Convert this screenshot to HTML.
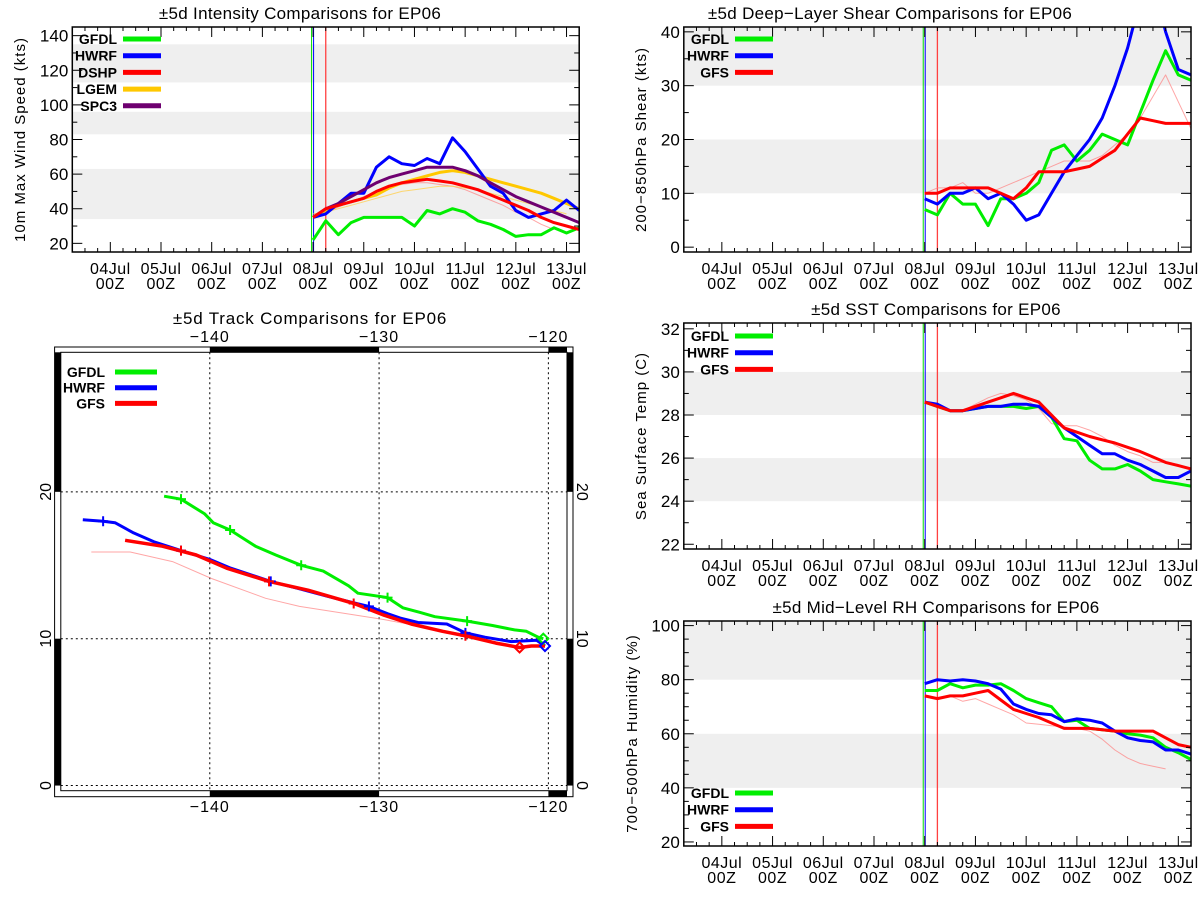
<!DOCTYPE html>
<html><head><meta charset="utf-8"><style>
html,body{margin:0;padding:0;background:#fff;}
svg{display:block;font-family:"Liberation Sans",sans-serif;}
</style></head><body>
<svg id="chart" width="1200" height="900" viewBox="0 0 1200 900" xmlns="http://www.w3.org/2000/svg"></svg>
<script>
// ---------- data ----------
const dayLabels = ["04Jul","05Jul","06Jul","07Jul","08Jul","09Jul","10Jul","11Jul","12Jul","13Jul"];
const dayValues = [4,5,6,7,8,9,10,11,12,13];
const t0 = 8.0; // first forecast time (day), 6-hourly steps
// Intensity (kts)
const intGFDL = [22,33,25,32,35,35,35,35,30,39,37,40,38,33,31,28,24,25,25,29,26,29];
const intHWRF = [35,37,43,49,49,64,70,66,65,69,66,81,73,63,53,49,39,35,37,39,45,39];
const intDSHP = [35,40,42,44,46,50,53,55,56,57,56,55,53,51,48,45,42,39,35,32,30,28];
const intLGEM = [35,39,42,44,46,48,52,55,57,59,61,62,61,59,57,55,53,51,49,46,43,40];
const intSPC3 = [35,40,43,47,51,55,58,60,62,64,64,64,62,59,55,51,47,44,41,38,35,32];
const intDSHPold = [36,38,41,44,47,50,53,54,55,55,54,53,51,48,45,42,38,35,31,28];
const intLGEMold = [37,38,40,42,44,46,48,50,51,52,53,53,52,51,49,47,45,43,41,39,37];
// Shear (kts)
const shrGFDL = [7,6,10,8,8,4,9,9,10,12,18,19,16,18,21,20,19,25,31,36.5,32,31];
const shrHWRF = [9,8,10,10,11,9,10,8,5,6,10,14,17,20,24,30,37,46,50,40,33,32];
const shrGFS  = [10,10,11,11,11,11,10,9,11,14,14,14,14.5,15,16.5,18,21,24,23.5,23,23,23];
const shrGFSold = [10,11,11,12,10,10,11,12,13,14,15,16,16,16,17,19,21,24,28,32,27,22];
// SST (C)
const sstGFDL = [28.6,28.4,28.2,28.2,28.3,28.4,28.4,28.4,28.3,28.4,27.9,26.9,26.8,25.9,25.5,25.5,25.7,25.4,25.0,24.9,24.8,24.7];
const sstHWRF = [28.6,28.5,28.2,28.2,28.3,28.4,28.4,28.5,28.5,28.4,27.9,27.4,27.0,26.6,26.2,26.2,25.9,25.7,25.4,25.1,25.1,25.4];
const sstGFS  = [28.6,28.4,28.2,28.2,28.4,28.6,28.8,29.0,28.8,28.6,28.0,27.4,27.2,27.0,26.85,26.7,26.5,26.3,26.05,25.8,25.65,25.5];
const sstGFSold = [28.6,28.4,28.2,28.2,28.5,28.8,29.0,28.9,28.7,28.3,27.6,27.5,27.5,27.3,27.0,26.6,26.3,26.1,25.8,25.8,25.7];
// RH (%)
const rhGFDL = [76,76,78.5,77,78,78,78.5,76,73,71.5,70,64.5,65,62,61.5,61,60,59.5,58.5,55,53,50.5];
const rhHWRF = [78.5,80,79.5,80,79.5,78.5,76.5,71,69,67.5,67,64.5,65.5,65,64,61,58.5,57.5,57,54,54,52.5];
const rhGFS  = [74,73,74,74,75,76,72.5,69,67.5,66,64,62,62,62,61.5,61,61,61,61,58.5,56,55];
const rhGFSold = [74,73,74,72,73,71,69,67,64,63.5,63,62.5,62,61,58,54,51,49,48,47];
// Track (lon, lat)
const trkGFDLlon = [-142.7,-141.7,-140.3,-139.8,-138.8,-137.3,-136.1,-134.6,-133.3,-131.8,-131.25,-129.5,-128.6,-127.6,-126.7,-124.8,-123.3,-122.0,-121.3,-120.6,-120.3];
const trkGFDLlat = [19.7,19.5,18.5,17.9,17.4,16.3,15.7,15.0,14.6,13.6,13.1,12.8,12.1,11.8,11.5,11.2,10.9,10.6,10.5,10.1,10.0];
const trkHWRFlon = [-147.5,-146.3,-145.6,-144.5,-143.3,-141.7,-140,-138.75,-136.4,-134.7,-133.1,-131.7,-130.6,-129.5,-128.75,-127.7,-126.0,-124.9,-123.75,-122.2,-120.7,-120.2];
const trkHWRFlat = [18.1,18.0,17.9,17.2,16.6,16.0,15.4,14.8,13.9,13.4,12.9,12.5,12.2,11.7,11.4,11.1,11.0,10.4,10.1,9.8,9.9,9.5];
const trkGFSlon = [-145.0,-142.8,-140.8,-139,-136.5,-134.2,-131.5,-129.7,-128.1,-126.25,-124.9,-123.1,-121.7,-121.0,-120.2];
const trkGFSlat = [16.7,16.3,15.7,14.8,13.9,13.3,12.4,11.6,11.0,10.5,10.2,9.7,9.4,9.5,9.5];
const trkOldlon = [-147,-144.7,-142.2,-139.9,-136.7,-134.7,-131.9,-129.7,-127.4,-125,-123];
const trkOldlat = [15.9,15.9,15.25,14.1,12.75,12.2,11.7,11.3,10.8,10.3,9.9];
const gfdlMarkLon = [-141.7,-138.8,-134.6,-129.5,-124.8];
const gfdlMarkLat = [19.5,17.4,15.0,12.8,11.2];
const hwrfMarkLon = [-146.3,-141.7,-136.4,-130.6,-124.9];
const hwrfMarkLat = [18.0,16.0,13.9,12.2,10.4];
const gfsMarkLon = [-141.7,-136.5,-131.5,-124.9];
const gfsMarkLat = [16.0,13.9,12.4,10.2];
const lonTicks = [-140,-130,-120];
const latTicks = [0,10,20];

// ---------- helpers ----------
const NS = "http://www.w3.org/2000/svg";
const svg = document.getElementById("chart");
function mk(tag, attrs, parent){
  const e = document.createElementNS(NS, tag);
  for (const k in attrs) e.setAttribute(k, attrs[k]);
  (parent||svg).appendChild(e);
  return e;
}
function txt(s, x, y, size, parent, anchor, extra){
  const t = mk("text", Object.assign({x:x, y:y, "font-size":size, "text-anchor":anchor||"middle", fill:"#000"}, extra||{}), parent);
  t.textContent = s;
  return t;
}
const COL = {GFDL:"#00ee00", HWRF:"#0000ff", DSHP:"#ff0000", GFS:"#ff0000", LGEM:"#ffc800", SPC3:"#6e0070"};

function tsPanel(o){
  const g = mk("g", {});
  
  
  const L=o.x0, R=o.x1, T=o.y0, B=o.y1;
  const xs = d => L + (d - 3.25) / 10 * (R - L);
  const ys = v => B - (v - o.vmin) / (o.vmax - o.vmin) * (B - T);
  const tt = txt(o.title, o.tx, T-8, 17, g, "middle", {"letter-spacing":"0.3"});
  
  
  o.bands.forEach(b => {
    const top = Math.min(b[1], o.vmax);
    const r = mk("rect", {x:L, y:ys(top), width:R-L, height:ys(b[0])-ys(top), fill:"#efefef"}, g);
    
    
  });
  const clipId = o.name + "-clip";
  const cp = mk("clipPath", {id:clipId}, g);
  mk("rect", {x:L, y:T, width:R-L, height:B-T}, cp);
  const pg = mk("g", {"clip-path":"url(#"+clipId+")"}, g);
  const vg = mk("line", {x1:xs(8.0)-1.5, x2:xs(8.0)-1.5, y1:T, y2:B, stroke:"#00dd00", "stroke-width":1}, pg);
  
  
  const vb = mk("line", {x1:xs(8.0)+0.5, x2:xs(8.0)+0.5, y1:T, y2:B, stroke:"#0000ff", "stroke-width":1}, pg);
  
  
  const vr = mk("line", {x1:xs(8.25), x2:xs(8.25), y1:T, y2:B, stroke:"#ff4040", "stroke-width":1.3}, pg);
  
  
  o.series.forEach(s => {
    const pts = s.data.map((v,i) => xs(t0 + i*0.25).toFixed(1) + "," + ys(v).toFixed(1)).join(" ");
    const pl = mk("polyline", {points:pts, fill:"none", stroke:s.color, "stroke-width":s.w, "stroke-linejoin":"round", opacity:s.op||1}, pg);
    
    
  });
  mk("rect", {x:L, y:T, width:R-L, height:B-T, fill:"none", stroke:"#000", "stroke-width":1.5}, g);
  for (let v = Math.ceil(o.vmin/o.minor)*o.minor; v <= o.vmax + 1e-9; v += o.minor) {
    const isMaj = Math.abs(v/o.major - Math.round(v/o.major)) < 1e-6;
    const len = isMaj ? 10 : 5;
    const y = ys(v);
    mk("line", {x1:L, x2:L+len, y1:y, y2:y, stroke:"#000", "stroke-width":1}, g);
    mk("line", {x1:R, x2:R-len, y1:y, y2:y, stroke:"#000", "stroke-width":1}, g);
    if (isMaj) {
      const lb = txt(String(Math.round(v)), L-4, y+6, 17, g, "end");
      
      
    }
  }
  for (let d = 3.5; d <= 13.25; d += 0.25) {
    const isMaj = Math.abs(d - Math.round(d)) < 1e-6;
    const len = isMaj ? 10 : 4;
    const x = xs(d);
    mk("line", {x1:x, x2:x, y1:B, y2:B-len, stroke:"#000", "stroke-width":1}, g);
    mk("line", {x1:x, x2:x, y1:T, y2:T+len, stroke:"#000", "stroke-width":1}, g);
  }
  dayValues.forEach((d,i) => {
    const a = txt(dayLabels[i], xs(d), B+22, 16, g, "middle", {"letter-spacing":"0.5"});
    
    
    const b = txt("00Z", xs(d), B+37, 16, g, "middle", {"letter-spacing":"0.5"});
    
    
  });
  const yt = txt(o.ytitle, 0, 0, 15, g, "middle", {transform:"translate("+o.ytx+","+((T+B)/2)+") rotate(-90)", "letter-spacing":"1"});
  
  
  o.legend.forEach((e,i) => {
    const y = o.legY + i*16.7;
    const lt = txt(e[0], o.legX, y+5, 14, g, "end", {"font-weight":"bold"});
    
    
    const ll = mk("line", {x1:o.legX+6, x2:o.legX+44, y1:y, y2:y, stroke:e[1], "stroke-width":5}, g);
    
    
  });
}

tsPanel({name:"intensity-panel", title:"±5d Intensity Comparisons for EP06", tx:300, x0:72.3, x1:579.2, y0:27, y1:252, vmin:15, vmax:145,
  major:20, minor:10, ytitle:"10m Max Wind Speed (kts)", ytx:25,
  bands:[[34,63],[83,96],[113,135]],
  series:[
    {name:"dshp-previous-line", data:intDSHPold, color:"#ff8080", w:1, op:0.7},
    {name:"lgem-previous-line", data:intLGEMold, color:"#ffd050", w:1, op:0.8},
    {name:"gfdl-line", data:intGFDL, color:COL.GFDL, w:3},
    {name:"lgem-line", data:intLGEM, color:COL.LGEM, w:3},
    {name:"hwrf-line", data:intHWRF, color:COL.HWRF, w:3},
    {name:"spc3-line", data:intSPC3, color:COL.SPC3, w:3},
    {name:"dshp-line", data:intDSHP, color:COL.DSHP, w:3}],
  legX:117, legY:39, legend:[["GFDL",COL.GFDL],["HWRF",COL.HWRF],["DSHP",COL.DSHP],["LGEM",COL.LGEM],["SPC3",COL.SPC3]]});
tsPanel({name:"shear-panel", title:"±5d Deep−Layer Shear Comparisons for EP06", tx:890, x0:683.8, x1:1191, y0:27, y1:252, vmin:-0.9, vmax:40.9,
  major:10, minor:5, ytitle:"200−850hPa Shear (kts)", ytx:646,
  bands:[[10,20],[30,45]],
  series:[
    {name:"gfs-previous-line", data:shrGFSold, color:"#ff8080", w:1, op:0.7},
    {name:"gfdl-line", data:shrGFDL, color:COL.GFDL, w:3},
    {name:"hwrf-line", data:shrHWRF, color:COL.HWRF, w:3},
    {name:"gfs-line", data:shrGFS, color:COL.GFS, w:3}],
  legX:729, legY:39, legend:[["GFDL",COL.GFDL],["HWRF",COL.HWRF],["GFS",COL.GFS]]});
tsPanel({name:"sst-panel", title:"±5d SST Comparisons for EP06", tx:936, x0:683.8, x1:1191, y0:323, y1:549, vmin:21.78, vmax:32.27,
  major:2, minor:1, ytitle:"Sea Surface Temp (C)", ytx:646,
  bands:[[28,30],[24,26]],
  series:[
    {name:"gfs-previous-line", data:sstGFSold, color:"#ff8080", w:1, op:0.7},
    {name:"gfdl-line", data:sstGFDL, color:COL.GFDL, w:3},
    {name:"hwrf-line", data:sstHWRF, color:COL.HWRF, w:3},
    {name:"gfs-line", data:sstGFS, color:COL.GFS, w:3}],
  legX:729, legY:336, legend:[["GFDL",COL.GFDL],["HWRF",COL.HWRF],["GFS",COL.GFS]]});
tsPanel({name:"rh-panel", title:"±5d Mid−Level RH Comparisons for EP06", tx:936, x0:683.8, x1:1191, y0:621, y1:846, vmin:18.5, vmax:101.7,
  major:20, minor:5, ytitle:"700−500hPa Humidity (%)", ytx:637,
  bands:[[40,60],[80,105]],
  series:[
    {name:"gfs-previous-line", data:rhGFSold, color:"#ff8080", w:1, op:0.7},
    {name:"gfdl-line", data:rhGFDL, color:COL.GFDL, w:3},
    {name:"hwrf-line", data:rhHWRF, color:COL.HWRF, w:3},
    {name:"gfs-line", data:rhGFS, color:COL.GFS, w:3}],
  legX:729, legY:793, legend:[["GFDL",COL.GFDL],["HWRF",COL.HWRF],["GFS",COL.GFS]]});

// ---------- Track panel ----------
(function(){
  const g = mk("g", {});
  
  
  const OL=54.6, OR=573, OT=347, OB=796.7;
  const L=60.8, R=567, T=352.3, B=790.7;
  const lonMin=-148.8, lonMax=-118.9, latMin=-0.35, latMax=29.5;
  const xs = lon => L + (lon - lonMin)/(lonMax - lonMin)*(R-L);
  const ys = lat => B - (lat - latMin)/(latMax - latMin)*(B-T);
  const tt = txt("±5d Track Comparisons for EP06", 310, 324, 17, g, "middle", {"letter-spacing":"0.8"});
  
  
  mk("rect", {x:OL, y:OT, width:OR-OL, height:OB-OT, fill:"none", stroke:"#000", "stroke-width":1}, g);
  mk("rect", {x:L, y:T, width:R-L, height:B-T, fill:"none", stroke:"#000", "stroke-width":1}, g);
  const hSeg = [[lonMin,-140,0],[-140,-130,1],[-130,-120,0],[-120,lonMax,1]];
  hSeg.forEach(s => { if (s[2]) {
    mk("rect", {x:xs(s[0]), y:OT, width:xs(s[1])-xs(s[0]), height:T-OT, fill:"#000"}, g);
    mk("rect", {x:xs(s[0]), y:B, width:xs(s[1])-xs(s[0]), height:OB-B, fill:"#000"}, g);
  }});
  const vSeg = [[latMin,0,0],[0,10,1],[10,20,0],[20,latMax,1]];
  vSeg.forEach(s => { if (s[2]) {
    mk("rect", {x:OL, y:ys(s[1]), width:L-OL, height:ys(s[0])-ys(s[1]), fill:"#000"}, g);
    mk("rect", {x:R, y:ys(s[1]), width:OR-R, height:ys(s[0])-ys(s[1]), fill:"#000"}, g);
  }});
  lonTicks.forEach(lon => {
    const gl = mk("line", {x1:xs(lon), x2:xs(lon), y1:T, y2:B, stroke:"#000", "stroke-width":1, "stroke-dasharray":"2,3"}, g);
    
    
    const a = txt("−" + Math.abs(lon), xs(lon), 342, 16, g, "middle", {"letter-spacing":"1"});
    
    
    const b = txt("−" + Math.abs(lon), xs(lon), 812, 16, g, "middle", {"letter-spacing":"1"});
    
    
  });
  latTicks.forEach(lat => {
    const gl = mk("line", {x1:L, x2:R, y1:ys(lat), y2:ys(lat), stroke:"#000", "stroke-width":1, "stroke-dasharray":"2,3"}, g);
    
    
    const a = txt(String(lat), 0, 0, 16, g, "middle", {transform:"translate(51,"+ys(lat)+") rotate(-90)"});
    
    
    const b = txt(String(lat), 0, 0, 16, g, "middle", {transform:"translate(577,"+ys(lat)+") rotate(90)"});
    
    
  });
  function track(name, lons, lats, color, w, op){
    const pts = lons.map((lo,i) => xs(lo).toFixed(1)+","+ys(lats[i]).toFixed(1)).join(" ");
    const pl = mk("polyline", {points:pts, fill:"none", stroke:color, "stroke-width":w, "stroke-linejoin":"round", opacity:op||1}, g);
    
    
  }
  function marks(name, lons, lats, color){
    lons.forEach((lo,i) => {
      const x = xs(lo), y = ys(lats[i]);
      const p = mk("path", {d:"M"+(x-5)+","+y+"H"+(x+5)+"M"+x+","+(y-5)+"V"+(y+5), stroke:color, "stroke-width":2}, g);
      
      
    });
  }
  function diamond(name, lon, lat, color){
    const x = xs(lon), y = ys(lat);
    const p = mk("path", {d:"M"+x+","+(y-5)+"L"+(x+5)+","+y+"L"+x+","+(y+5)+"L"+(x-5)+","+y+"Z", fill:"none", stroke:color, "stroke-width":2}, g);
    
    
  }
  track("previous-track-line", trkOldlon, trkOldlat, "#ff8080", 1, 0.7);
  track("gfdl-track", trkGFDLlon, trkGFDLlat, COL.GFDL, 3);
  track("hwrf-track", trkHWRFlon, trkHWRFlat, COL.HWRF, 3);
  track("gfs-track", trkGFSlon, trkGFSlat, COL.GFS, 3.5);
  marks("gfdl-track-marker", gfdlMarkLon, gfdlMarkLat, COL.GFDL);
  marks("hwrf-track-marker", hwrfMarkLon, hwrfMarkLat, COL.HWRF);
  marks("gfs-track-marker", gfsMarkLon, gfsMarkLat, COL.GFS);
  diamond("gfdl-start-marker", trkGFDLlon[trkGFDLlon.length-1], trkGFDLlat[trkGFDLlat.length-1], COL.GFDL);
  diamond("gfs-start-marker", trkGFSlon[12], trkGFSlat[12], COL.GFS);
  diamond("hwrf-start-marker", trkHWRFlon[trkHWRFlon.length-1], trkHWRFlat[trkHWRFlat.length-1], COL.HWRF);
  const leg = [["GFDL",COL.GFDL],["HWRF",COL.HWRF],["GFS",COL.GFS]];
  leg.forEach((e,i) => {
    const y = 372 + i*15.7;
    const lt = txt(e[0], 105, y+5, 14, g, "end", {"font-weight":"bold"});
    
    
    const ll = mk("line", {x1:115, x2:157, y1:y, y2:y, stroke:e[1], "stroke-width":5}, g);
    
    
  });
})();
</script>
</body></html>
